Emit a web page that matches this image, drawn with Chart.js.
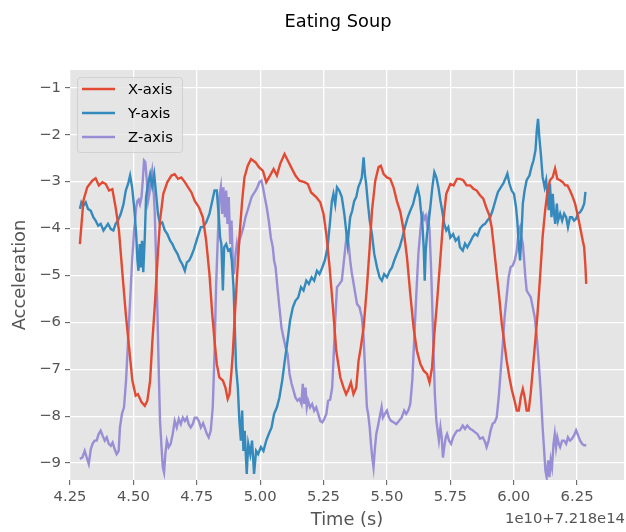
<!DOCTYPE html>
<html>
<head>
<meta charset="utf-8">
<script src="https://cdn.jsdelivr.net/npm/chart.js@4/dist/chart.umd.min.js"></script>
<style>
html,body{margin:0;padding:0;background:#fff;}
canvas{display:block;}
</style>
</head>
<body>
<canvas id="c" width="626" height="532" style="width:626px;height:532px"></canvas>
<script>
// ---- data (time offset from 7.218e14, in units of 1e10 s) ----
const chartTitle = "Eating Soup";
const xAxisLabel = "Time (s)";
const yAxisLabel = "Acceleration";
const offsetLabel = "1e10+7.218e14";
const seriesNames = ["X-axis", "Y-axis", "Z-axis"];
const seriesColors = ["#E24A33", "#348ABD", "#988ED5"];
const xTickValues = [4.25, 4.5, 4.75, 5.0, 5.25, 5.5, 5.75, 6.0, 6.25];
const yTickValues = [-9, -8, -7, -6, -5, -4, -3, -2, -1];

const xAxisTime = [4.289,4.303,4.318,4.338,4.351,4.364,4.378,4.391,4.404,4.417,4.430,4.443,4.457,4.470,4.483,4.496,4.509,4.518,4.532,4.545,4.555,4.566,4.575,4.584,4.595,4.605,4.618,4.634,4.650,4.663,4.676,4.689,4.703,4.716,4.729,4.742,4.759,
4.774,4.787,4.800,4.811,4.820,4.829,4.839,4.853,4.863,4.872,4.879,4.886,4.892,4.899,4.908,4.918,4.929,4.938,4.951,4.964,4.982,4.995,5.011,5.024,5.039,5.053,5.066,5.079,5.096,5.109,5.122,5.139,5.155,5.175,5.188,5.201,5.221,5.237,5.250,5.261,5.274,5.287,5.300,
5.316,5.329,5.339,5.349,5.358,5.368,5.379,5.388,5.397,5.408,5.421,5.432,5.441,5.454,5.467,5.476,5.487,5.500,5.513,5.526,5.539,5.553,5.566,5.579,5.592,5.605,5.618,5.632,5.645,5.658,5.668,5.678,5.687,5.697,5.708,5.721,5.734,5.750,5.763,5.776,
5.788,5.801,5.814,5.828,5.841,5.854,5.867,5.880,5.891,5.904,5.913,5.922,5.933,5.943,5.953,5.962,5.972,5.983,5.993,6.003,6.012,6.020,6.028,6.036,6.043,6.051,6.059,6.067,6.075,6.084,6.093,6.104,6.114,6.124,6.133,6.143,6.154,6.163,6.172,6.183,6.193,6.203,6.212,6.222,6.233,6.242,6.251,6.262,6.272,6.278,6.283,6.286];
const xAxisValues = [-4.33,-3.40,-3.12,-2.98,-2.93,-3.08,-3.01,-3.05,-3.19,-3.16,-3.55,-4.04,-4.97,-5.82,-6.53,-7.24,-7.56,-7.53,-7.70,-7.78,-7.67,-7.24,-6.39,-5.68,-4.68,-3.83,-3.26,-3.01,-2.87,-2.84,-2.94,-2.91,-3.01,-3.12,-3.23,-3.41,-3.55,
-3.76,-4.26,-4.97,-5.82,-6.39,-6.89,-7.17,-7.24,-7.39,-7.63,-7.53,-7.10,-6.67,-5.96,-5.11,-4.19,-3.41,-2.91,-2.66,-2.52,-2.59,-2.69,-2.77,-3.01,-2.87,-2.73,-2.87,-2.62,-2.41,-2.55,-2.69,-2.87,-2.98,-3.01,-3.05,-3.23,-3.33,-3.44,-3.69,-4.12,-4.83,-5.68,-6.60,
-7.17,-7.39,-7.53,-7.42,-7.28,-7.53,-7.39,-6.82,-6.53,-6.11,-5.25,-4.40,-3.62,-2.98,-2.69,-2.66,-2.84,-2.91,-2.94,-3.12,-3.41,-3.65,-4.04,-4.61,-5.39,-6.11,-6.60,-6.89,-7.03,-7.10,-7.28,-6.96,-6.25,-5.61,-4.83,-3.90,-3.26,-3.05,-3.08,-2.94,
-2.94,-2.97,-3.08,-3.08,-3.15,-3.19,-3.29,-3.36,-3.54,-3.72,-3.97,-4.40,-4.96,-5.46,-6.03,-6.39,-6.81,-7.17,-7.45,-7.66,-7.88,-7.88,-7.59,-7.42,-7.59,-7.88,-7.88,-7.52,-7.02,-6.46,-5.89,-5.03,-4.18,-3.61,-3.22,-2.97,-2.90,-2.72,-2.94,-2.97,-3.01,-3.08,-3.08,-3.19,-3.33,-3.47,-3.68,-3.97,-4.25,-4.40,-4.82,-5.18];

const yAxisTime = [4.289,4.295,4.303,4.312,4.321,4.332,4.342,4.351,4.361,4.371,4.382,4.391,4.400,4.411,4.421,4.430,4.439,4.450,4.461,4.470,4.479,4.487,4.495,4.503,4.511,4.516,4.520,4.525,4.529,4.534,4.539,4.545,4.550,4.558,4.566,4.574,4.582,4.589,4.597,4.605,4.614,4.624,4.634,4.645,4.654,4.663,4.674,4.684,4.693,4.703,4.711,4.720,4.729,4.739,4.753,4.766,
4.774,4.787,4.800,4.811,4.820,4.829,4.837,4.842,4.847,4.853,4.858,4.866,4.874,4.882,4.888,4.895,4.900,4.905,4.912,4.918,4.924,4.929,4.934,4.939,4.947,4.953,4.961,4.968,4.976,4.984,4.992,5.003,5.013,5.024,5.034,5.045,5.055,5.066,5.076,5.087,5.097,5.108,5.118,5.129,5.139,5.150,5.161,5.171,5.182,5.192,5.203,5.213,5.224,5.234,5.245,5.255,5.266,
5.276,5.283,5.289,5.296,5.303,5.312,5.322,5.332,5.339,5.345,5.350,5.355,5.363,5.371,5.379,5.387,5.395,5.401,5.408,5.413,5.418,5.424,5.432,5.441,5.450,5.461,5.471,5.480,5.489,5.500,5.511,5.520,5.529,5.539,5.550,5.561,5.571,5.582,5.592,5.603,5.613,5.621,5.629,5.634,5.639,5.645,5.649,5.653,5.658,5.664,5.671,5.679,5.687,5.695,5.703,5.711,5.718,5.726,5.734,5.742,5.750,5.761,5.771,5.782,
5.788,5.799,5.808,5.817,5.828,5.838,5.847,5.857,5.867,5.878,5.887,5.896,5.907,5.917,5.928,5.938,5.949,5.959,5.970,5.975,5.983,5.992,6.001,6.009,6.014,6.020,6.025,6.030,6.036,6.043,6.051,6.062,6.070,6.078,6.086,6.091,6.096,6.101,6.107,6.114,6.122,6.128,6.133,6.138,6.143,6.149,6.154,6.159,6.164,6.170,6.175,6.183,6.191,6.199,6.207,6.214,6.222,6.230,6.238,6.246,6.254,6.262,6.270,6.278,6.283];
const yAxisValues = [-3.58,-3.44,-3.51,-3.44,-3.58,-3.62,-3.76,-3.83,-3.94,-3.90,-4.04,-3.97,-3.90,-4.01,-4.04,-3.90,-3.83,-3.69,-3.48,-3.19,-3.05,-2.87,-3.12,-3.55,-4.12,-4.68,-4.90,-4.33,-4.83,-4.26,-4.93,-4.19,-3.33,-3.05,-2.84,-3.09,-2.84,-3.23,-3.69,-3.90,-3.87,-4.04,-4.12,-4.26,-4.33,-4.44,-4.54,-4.68,-4.76,-4.90,-4.72,-4.68,-4.58,-4.44,-4.19,-3.97,
-3.97,-3.87,-3.69,-3.41,-3.19,-3.19,-3.76,-4.19,-4.33,-5.32,-4.40,-4.33,-4.47,-4.44,-4.68,-5.25,-6.11,-6.96,-7.39,-8.10,-8.52,-7.88,-8.74,-8.31,-9.23,-8.59,-8.81,-8.52,-9.23,-8.74,-8.81,-8.66,-8.74,-8.52,-8.38,-8.24,-7.95,-7.81,-7.60,-7.24,-6.82,-6.39,-5.96,-5.68,-5.54,-5.47,-5.25,-5.32,-5.11,-5.18,-5.04,-5.11,-4.90,-4.97,-4.83,-4.68,-4.40,
-3.83,-3.41,-3.26,-3.48,-3.12,-3.19,-3.33,-3.69,-4.04,-4.33,-4.04,-3.76,-3.62,-3.41,-3.33,-3.12,-3.01,-2.91,-2.48,-2.84,-3.05,-3.41,-3.83,-4.12,-4.54,-4.83,-5.04,-5.11,-4.97,-5.04,-4.90,-4.83,-4.68,-4.54,-4.40,-4.19,-3.97,-3.76,-3.62,-3.48,-3.26,-3.12,-3.33,-3.62,-3.83,-4.40,-5.11,-4.47,-4.12,-3.90,-3.55,-3.12,-2.80,-2.91,-3.12,-3.41,-3.62,-3.90,-4.04,-3.97,-4.19,-4.12,-4.26,-4.19,
-4.40,-4.47,-4.32,-4.40,-4.29,-4.18,-4.11,-4.15,-4.00,-3.93,-3.90,-3.83,-3.76,-3.61,-3.40,-3.22,-3.12,-3.04,-2.90,-2.83,-3.04,-3.19,-3.26,-3.54,-3.83,-4.32,-4.68,-4.18,-3.47,-3.19,-2.97,-2.87,-2.69,-2.55,-2.33,-1.91,-1.66,-2.05,-2.41,-2.90,-3.12,-2.97,-3.26,-3.61,-3.04,-3.76,-3.26,-3.68,-3.90,-3.47,-3.83,-3.68,-3.83,-3.68,-3.76,-3.97,-3.76,-3.76,-3.83,-3.79,-3.68,-3.65,-3.58,-3.47,-3.22];

const zAxisTime = [4.289,4.299,4.308,4.316,4.324,4.332,4.339,4.347,4.355,4.363,4.371,4.379,4.387,4.395,4.403,4.411,4.418,4.426,4.434,4.442,4.447,4.455,4.463,4.471,4.479,4.487,4.495,4.503,4.511,4.516,4.521,4.526,4.532,4.537,4.542,4.547,4.553,4.558,4.563,4.568,4.574,4.579,4.584,4.589,4.595,4.600,4.605,4.611,4.616,4.621,4.626,4.632,4.639,4.647,4.655,4.663,4.671,4.679,4.687,4.695,4.703,4.711,4.718,4.726,4.734,4.742,4.750,4.758,
4.766,4.775,4.783,4.790,4.797,4.805,4.813,4.820,4.826,4.833,4.839,4.845,4.850,4.855,4.861,4.866,4.871,4.876,4.882,4.887,4.892,4.897,4.903,4.908,4.913,4.918,4.926,4.934,4.942,4.950,4.958,4.966,4.974,4.982,4.989,4.997,5.005,5.011,5.018,5.026,5.034,5.042,5.050,5.055,5.061,5.068,5.076,5.084,5.092,5.100,5.108,5.116,5.124,5.132,5.139,5.147,5.155,5.163,5.168,5.174,5.179,5.184,5.189,5.197,5.205,5.213,5.221,5.229,5.237,5.245,5.253,5.261,5.268,
5.276,5.284,5.289,5.296,5.303,5.313,5.322,5.329,5.336,5.342,5.349,5.355,5.362,5.371,5.382,5.392,5.401,5.408,5.414,5.421,5.426,5.432,5.437,5.442,5.447,5.453,5.458,5.466,5.474,5.479,5.484,5.492,5.500,5.508,5.516,5.526,5.537,5.547,5.558,5.568,5.576,5.584,5.592,5.600,5.608,5.616,5.624,5.632,5.637,5.642,5.647,5.653,5.658,5.663,5.668,5.674,5.679,5.684,5.689,5.695,5.700,5.705,5.711,5.716,5.721,5.726,5.732,5.737,5.745,5.753,5.761,5.768,5.776,
5.788,5.799,5.808,5.817,5.828,5.838,5.847,5.857,5.867,5.878,5.887,5.893,5.901,5.909,5.917,5.925,5.933,5.941,5.949,5.957,5.964,5.972,5.980,5.988,5.996,6.004,6.012,6.020,6.025,6.030,6.036,6.041,6.046,6.051,6.059,6.067,6.075,6.083,6.091,6.099,6.107,6.114,6.120,6.125,6.130,6.136,6.141,6.146,6.151,6.157,6.162,6.167,6.172,6.178,6.183,6.191,6.199,6.207,6.214,6.222,6.230,6.238,6.246,6.254,6.262,6.270,6.278,6.286];
const zAxisValues = [-8.91,-8.88,-8.74,-8.88,-9.02,-8.70,-8.59,-8.52,-8.52,-8.38,-8.31,-8.42,-8.52,-8.45,-8.59,-8.63,-8.56,-8.70,-8.81,-8.74,-8.24,-7.95,-7.81,-7.24,-6.39,-5.54,-4.68,-4.04,-3.55,-3.41,-3.38,-3.48,-3.33,-2.98,-2.55,-2.58,-2.98,-3.41,-3.26,-2.98,-2.77,-3.12,-3.62,-4.54,-5.82,-7.03,-8.10,-8.66,-9.09,-9.20,-8.81,-8.52,-8.66,-8.59,-8.38,-8.10,-8.24,-8.06,-8.17,-8.03,-8.10,-8.03,-8.17,-8.24,-8.17,-8.03,-8.03,-8.10,
-8.24,-8.15,-8.27,-8.38,-8.45,-8.31,-7.81,-6.67,-5.25,-4.19,-3.33,-3.12,-3.69,-3.12,-3.76,-3.19,-3.90,-3.33,-4.33,-3.83,-4.68,-4.97,-4.54,-4.33,-4.54,-4.26,-4.12,-3.97,-3.76,-3.62,-3.48,-3.33,-3.26,-3.19,-3.12,-3.01,-2.98,-3.12,-3.33,-3.55,-3.83,-4.19,-4.40,-4.68,-4.83,-5.25,-5.68,-6.11,-6.32,-6.53,-6.67,-7.10,-7.31,-7.46,-7.60,-7.67,-7.63,-7.74,-7.31,-7.74,-7.39,-7.81,-7.67,-7.81,-7.74,-7.88,-7.81,-7.95,-8.10,-8.13,-8.06,-7.95,-7.67,
-7.65,-7.39,-6.82,-5.96,-5.25,-5.18,-5.11,-4.76,-4.40,-4.12,-4.33,-4.68,-4.97,-5.25,-5.61,-5.68,-5.89,-6.32,-7.03,-7.81,-7.95,-8.24,-8.59,-8.88,-9.09,-8.66,-8.38,-8.17,-7.95,-7.81,-8.03,-7.95,-7.88,-8.03,-8.10,-8.13,-8.17,-8.10,-8.03,-7.88,-7.95,-7.88,-7.74,-7.24,-6.32,-5.39,-4.54,-4.04,-3.76,-3.69,-3.80,-3.73,-3.90,-3.76,-4.04,-4.83,-5.68,-6.67,-7.53,-8.10,-8.31,-8.52,-8.24,-8.45,-8.88,-8.66,-8.45,-8.38,-8.52,-8.59,-8.45,-8.38,-8.31,
-8.30,-8.20,-8.27,-8.20,-8.27,-8.30,-8.34,-8.38,-8.48,-8.45,-8.55,-8.66,-8.52,-8.30,-8.16,-8.13,-8.02,-7.59,-7.02,-6.46,-5.89,-5.46,-5.03,-4.82,-4.79,-4.68,-4.47,-4.04,-3.97,-4.18,-4.32,-4.68,-5.03,-5.32,-5.39,-5.46,-5.67,-5.89,-6.31,-6.88,-7.52,-8.23,-8.73,-9.16,-9.30,-8.94,-9.30,-8.94,-9.09,-8.59,-8.38,-8.66,-8.45,-8.59,-8.66,-8.52,-8.52,-8.59,-8.45,-8.52,-8.48,-8.41,-8.30,-8.41,-8.52,-8.59,-8.62,-8.62];

// ---- build ----
const FONT = "'DejaVu Sans', 'Liberation Sans', sans-serif";
function pairs(t, v) { return t.map((x, i) => ({ x: x, y: v[i] })); }
const seriesTimes = [xAxisTime, yAxisTime, zAxisTime];
const seriesValues = [xAxisValues, yAxisValues, zAxisValues];

const datasets = seriesNames.map((name, i) => ({
  label: name,
  data: pairs(seriesTimes[i], seriesValues[i]),
  borderColor: seriesColors[i],
  backgroundColor: seriesColors[i],
  borderWidth: 2.4,
  pointRadius: 0,
  tension: 0,
  fill: false
}));

const bgPlugin = {
  id: 'bg',
  beforeDraw(chart) {
    const { ctx, chartArea: a } = chart;
    ctx.save();
    ctx.fillStyle = '#ffffff';
    ctx.fillRect(0, 0, chart.width, chart.height);
    ctx.fillStyle = '#E5E5E5';
    ctx.fillRect(a.left, a.top, a.right - a.left, a.bottom - a.top);
    ctx.restore();
  }
};

const textPlugin = {
  id: 'texts',
  afterDraw(chart) {
    const { ctx, chartArea: a } = chart;
    ctx.save();
    // title
    ctx.fillStyle = '#000';
    ctx.font = '17.8px ' + FONT;
    ctx.textAlign = 'center';
    ctx.textBaseline = 'middle';
    ctx.fillText(chartTitle, 338, 22);
    // x label
    ctx.fillStyle = '#555555';
    ctx.font = '17.8px ' + FONT;
    ctx.fillText(xAxisLabel, (a.left + a.right) / 2, 520);
    // y label
    ctx.save();
    ctx.translate(20, (a.top + a.bottom) / 2);
    ctx.rotate(-Math.PI / 2);
    ctx.fillText(yAxisLabel, 0, 0);
    ctx.restore();
    // offset text
    ctx.font = '14.8px ' + FONT;
    ctx.textAlign = 'right';
    ctx.fillText(offsetLabel, a.right + 1, 519);
    // legend
    const lx = 77, ly = 77, lw = 105, lh = 75;
    ctx.beginPath();
    if (ctx.roundRect) ctx.roundRect(lx + 0.5, ly + 0.5, lw, lh, 3); else ctx.rect(lx + 0.5, ly + 0.5, lw, lh);
    ctx.fillStyle = 'rgba(229,229,229,0.8)';
    ctx.fill();
    ctx.strokeStyle = 'rgba(204,204,204,0.8)';
    ctx.lineWidth = 1;
    ctx.stroke();
    ctx.textAlign = 'left';
    ctx.textBaseline = 'middle';
    ctx.font = '14.8px ' + FONT;
    chart.data.datasets.forEach((ds, i) => {
      const y = 89 + i * 24;
      ctx.strokeStyle = ds.borderColor;
      ctx.lineWidth = 2.4;
      ctx.beginPath();
      ctx.moveTo(82, y);
      ctx.lineTo(115, y);
      ctx.stroke();
      ctx.fillStyle = '#000';
      ctx.fillText(ds.label, 128, y + 1);
    });
    ctx.restore();
  }
};

new Chart(document.getElementById('c').getContext('2d'), {
  type: 'line',
  data: { datasets: datasets },
  options: {
    responsive: false,
    animation: false,
    devicePixelRatio: 1,
    layout: { padding: { left: 0, right: 2, top: 70, bottom: 0 } },
    plugins: {
      legend: { display: false },
      title: { display: false },
      tooltip: { enabled: false }
    },
    scales: {
      x: {
        type: 'linear',
        min: 4.25,
        max: 6.435,
        afterFit(s) { s.height = 52; },
        afterBuildTicks(s) { s.ticks = xTickValues.map(v => ({ value: v })); },
        border: { display: false },
        grid: { color: '#ffffff', lineWidth: 1.3, drawTicks: true, tickLength: 5, tickColor: '#555555', tickWidth: 1 },
        ticks: {
          color: '#555555',
          font: { family: FONT, size: 14.8 },
          padding: 3,
          maxRotation: 0,
          autoSkip: false,
          callback: v => Number(v).toFixed(2)
        }
      },
      y: {
        type: 'linear',
        min: -9.36,
        max: -0.62,
        afterFit(s) { s.width = 70; },
        afterBuildTicks(s) { s.ticks = yTickValues.map(v => ({ value: v })); },
        border: { display: false },
        grid: { color: '#ffffff', lineWidth: 1.3, drawTicks: true, tickLength: 5, tickColor: '#555555', tickWidth: 1 },
        ticks: {
          color: '#555555',
          font: { family: FONT, size: 14.8 },
          padding: 4,
          autoSkip: false,
          callback: v => (v < 0 ? '\u2212' : '') + Math.abs(v)
        }
      }
    }
  },
  plugins: [bgPlugin, textPlugin]
});
</script>
</body>
</html>
